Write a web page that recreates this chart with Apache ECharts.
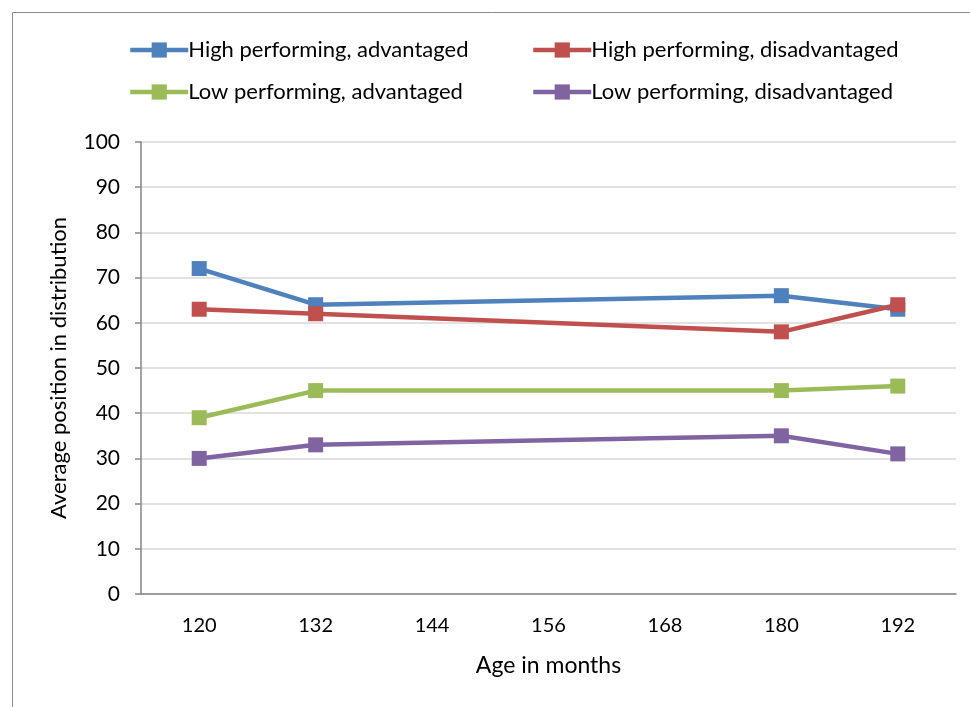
<!DOCTYPE html>
<html><head><meta charset="utf-8">
<script src="https://cdn.jsdelivr.net/npm/echarts@6/dist/echarts.min.js"></script>
<style>html,body{margin:0;padding:0;background:#fff}#c{width:970px;height:707px}</style>
</head><body><div id="c"></div>
<script>
const categories = ['120','132','144','156','168','180','192'];
const highAdv    = [72, 64, null, null, null, 66, 63];
const highDis    = [63, 62, null, null, null, 58, 64];
const lowAdv     = [39, 45, null, null, null, 45, 46];
const lowDis     = [30, 33, null, null, null, 35, 31];
const seriesNames = ['High performing, advantaged','High performing, disadvantaged','Low performing, advantaged','Low performing, disadvantaged'];
const seriesData = [highAdv, highDis, lowAdv, lowDis];
const colors = ['#4F81BD','#C0504D','#9BBB59','#8064A2'];
const FONT = 'Lato';

const chart = echarts.init(document.getElementById('c'), null, {renderer:'canvas'});
const legendPos = [[123,34],[526,34],[123,76],[526,76]];
chart.setOption({
  animation:false,
  textStyle:{fontFamily:FONT},
  graphic:[{type:'rect',shape:{x:12.5,y:12.5,width:1000,height:1000},style:{fill:'none',stroke:'#8c8c8c',lineWidth:1}}],
  legend: seriesNames.map((n,i)=>({
    data:[n], left:legendPos[i][0], top:legendPos[i][1],
    itemWidth:58, itemHeight:19, itemGap:0,
    lineStyle:{width:4.5},
    textStyle:{fontFamily:FONT,fontSize:22,color:'#000',padding:[0,0,0,-5]}
  })),
  grid:{left:141,right:14,top:142,bottom:113},
  xAxis:{
    type:'category', data:categories, boundaryGap:true,
    name:'Age in months', nameLocation:'middle', nameGap:60,
    nameTextStyle:{fontFamily:FONT,fontSize:23,color:'#000'},
    axisLine:{lineStyle:{color:'#868686',width:1.5}},
    axisTick:{alignWithLabel:true,length:6,lineStyle:{color:'#868686',width:1.5}},
    axisLabel:{fontFamily:FONT,fontSize:20,color:'#000',margin:22}
  },
  yAxis:{
    type:'value', min:0, max:100, interval:10,
    name:'Average position in distribution', nameLocation:'middle', nameGap:71,
    nameTextStyle:{fontFamily:FONT,fontSize:22,color:'#000'},
    axisLine:{show:true,lineStyle:{color:'#868686',width:1.5}},
    axisTick:{show:true,length:6,lineStyle:{color:'#868686',width:1.5}},
    axisLabel:{fontFamily:FONT,fontSize:21,color:'#000',margin:21},
    splitLine:{lineStyle:{color:'#d9d9d9',width:1.5}}
  },
  series: seriesNames.map((n,i)=>({
    name:n, type:'line', data:seriesData[i], connectNulls:true,
    symbol:'rect', symbolSize:15, showSymbol:true,
    lineStyle:{color:colors[i],width:4.5},
    itemStyle:{color:colors[i]}
  }))
});
</script></body></html>
